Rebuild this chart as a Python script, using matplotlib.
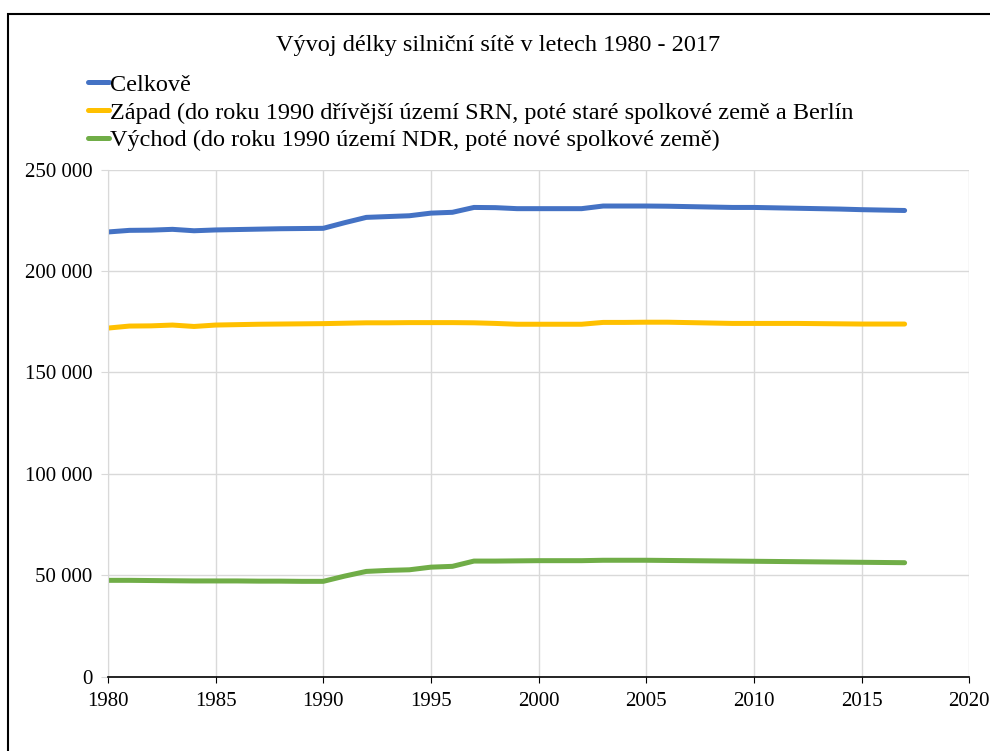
import numpy as np
import matplotlib.pyplot as plt
from matplotlib.ticker import FuncFormatter
from matplotlib.patches import Rectangle

plt.rcParams['font.family'] = ['Liberation Serif', 'DejaVu Serif']

# road network length (km)
years = list(range(1980, 2018))
celkove = [219300, 220100, 220200, 220600, 219900, 220300, 220500, 220700, 220900, 221000,
           221100, 223900, 226500, 226900, 227300, 228600, 229000, 231400, 231300, 230800,
           230800, 230800, 230800, 232100, 232100, 232100, 232000, 231800, 231600, 231400,
           231400, 231200, 231000, 230800, 230600, 230300, 230100, 229900]
zapad = [171900, 172900, 173000, 173400, 172700, 173400, 173600, 173800, 173900, 174000,
         174100, 174300, 174500, 174500, 174600, 174600, 174600, 174500, 174200, 173800,
         173800, 173800, 173800, 174700, 174700, 174800, 174800, 174600, 174400, 174200,
         174200, 174200, 174200, 174100, 174000, 173900, 173900, 173900]
vychod = [47500, 47500, 47400, 47300, 47200, 47200, 47200, 47100, 47100, 47000,
          47000, 49600, 51900, 52400, 52700, 54000, 54400, 57000, 57000, 57100,
          57200, 57200, 57200, 57400, 57400, 57400, 57300, 57200, 57100, 57000,
          56900, 56800, 56700, 56600, 56500, 56400, 56300, 56200]

labels = ["Celkově",
          "Západ (do roku 1990 dřívější území SRN, poté staré spolkové země a Berlín",
          "Východ (do roku 1990 území NDR, poté nové spolkové země)"]
colors = ["#4472C4", "#FFC000", "#70AD47"]

fig = plt.figure(figsize=(9.9, 7.51), dpi=100)
ax = fig.add_axes([0.109, 0.099, 0.870, 0.675])

for vals, lab, col in zip([celkove, zapad, vychod], labels, colors):
    ax.plot(years, vals, color=col, lw=3.6, label=lab, solid_capstyle='round', solid_joinstyle='round')

ax.set_xlim(1980, 2020)
ax.set_ylim(0, 250000)
ax.set_xticks(range(1980, 2021, 5))
ax.set_yticks(range(0, 250001, 50000))
ax.yaxis.set_major_formatter(FuncFormatter(lambda v, p: f"{int(v):,}".replace(",", " ")))
ax.grid(True, color="#D9D9D9", lw=1)
ax.set_axisbelow(True)
for s in ["top", "right"]:
    ax.spines[s].set_visible(False)
ax.spines["left"].set_color("#D9D9D9")
ax.spines["bottom"].set_color("black")
ax.spines["bottom"].set_linewidth(1.2)
ax.tick_params(axis="y", colors="#D9D9D9", labelcolor="black", length=5, labelsize=15, pad=6)
ax.tick_params(axis="x", color="black", length=4, labelsize=15, pad=7)

fig.text(0.503, 0.939, "Vývoj délky silniční sítě v letech 1980 - 2017", ha="center", va="center", fontsize=17.5)
fig.legend(loc="upper left", bbox_to_anchor=(0.077, 0.918), frameon=False, fontsize=17.5,
           handlelength=0.85, handletextpad=0.05, labelspacing=0.24, borderpad=0)

# frame around the figure (cut off on the right and bottom in the original)
fig.add_artist(Rectangle((0.008, -0.05), 1.2, 1.031, transform=fig.transFigure,
                         fill=False, ec="black", lw=1.5))

fig.savefig("out.png", dpi=100)
